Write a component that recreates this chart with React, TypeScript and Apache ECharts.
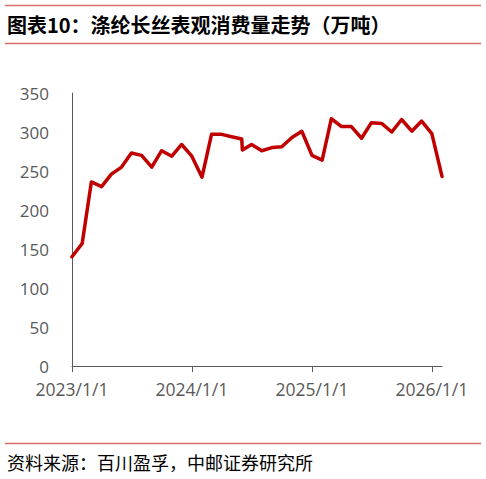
import React, { useEffect, useRef } from "react";
import * as echarts from "echarts";

const dates = [
  "2023-01-01", "2023-02-01", "2023-03-01", "2023-04-01", "2023-05-01", "2023-06-01",
  "2023-07-01", "2023-08-01", "2023-09-01", "2023-10-01", "2023-11-01", "2023-12-01",
  "2024-01-01", "2024-02-01", "2024-03-01", "2024-04-01", "2024-05-01", "2024-06-01",
  "2024-06-03", "2024-07-01", "2024-08-01", "2024-09-01", "2024-10-01", "2024-11-01",
  "2024-12-01", "2025-01-01", "2025-02-01", "2025-03-01", "2025-04-01", "2025-05-01",
  "2025-06-01", "2025-07-01", "2025-08-01", "2025-09-01", "2025-10-01", "2025-11-01",
  "2025-12-01", "2026-01-01", "2026-02-01",
];

const values = [
  140, 157, 236, 230, 246, 255,
  273, 270, 255, 276, 269, 284,
  269, 242, 297, 297, 294, 291,
  277, 284, 276, 280, 281, 293,
  301, 270, 264, 317, 307, 307,
  292, 312, 311, 300, 316, 301,
  314, 298, 243,
];

const yearTicks = ["2023-01-01", "2024-01-01", "2025-01-01", "2026-01-01"];
const yTicks = [0, 50, 100, 150, 200, 250, 300, 350];

const title = "图表10：涤纶长丝表观消费量走势（万吨）";
const source = "资料来源：百川盈孚，中邮证券研究所";

const ts = (d: string) => {
  const [y, m, day] = d.split("-").map(Number);
  return Date.UTC(y, m - 1, day);
};

export default function App() {
  const ref = useRef<HTMLDivElement>(null);
  useEffect(() => {
    if (!ref.current) return;
    const chart = echarts.init(ref.current, null, { renderer: "svg" });
    const xMin = ts(dates[0]);
    const xMax = ts(dates[dates.length - 1]);
    const lineColor = "#DA6D6D";
    chart.setOption({
      animation: false,
      backgroundColor: "#ffffff",
      grid: { left: 72, right: 44, top: 93, bottom: 113 },
      xAxis: {
        type: "value",
        min: xMin,
        max: xMax,
        axisLine: { show: true, lineStyle: { color: "#595959", width: 1 } },
        axisTick: {
          show: true,
          length: 6,
          inside: false,
          customValues: yearTicks.map(ts),
          lineStyle: { color: "#595959" },
        },
        axisLabel: {
          customValues: yearTicks.map(ts),
          formatter: (v: number) => new Date(v).getUTCFullYear() + "/1/1",
          color: "#595959",
          fontSize: 17.5,
          fontFamily: "Open Sans",
          margin: 14,
        },
        splitLine: { show: false },
      },
      yAxis: {
        type: "value",
        min: yTicks[0],
        max: yTicks[yTicks.length - 1],
        interval: 50,
        axisLine: { show: true, lineStyle: { color: "#595959", width: 1 } },
        axisTick: { show: false },
        axisLabel: {
          color: "#595959",
          fontSize: 17,
          fontFamily: "Open Sans",
          margin: 23,
        },
        splitLine: { show: false },
      },
      series: [
        {
          type: "line",
          data: dates.map((d, i) => [ts(d), values[i]]),
          showSymbol: false,
          symbol: "none",
          lineStyle: { color: "#C00000", width: 3.5, join: "round", cap: "round" },
        },
      ],
      graphic: [
        { type: "line", shape: { x1: 5, y1: 5.5, x2: 481, y2: 5.5 }, style: { stroke: lineColor, lineWidth: 1.5 } },
        {
          type: "text",
          left: 7,
          top: 14,
          style: {
            text: title,
            fontSize: 20,
            fontWeight: "bold",
            fontFamily: "Noto Sans CJK SC",
            fill: "#000000",
          },
        },
        { type: "line", shape: { x1: 5, y1: 43.5, x2: 481, y2: 43.5 }, style: { stroke: lineColor, lineWidth: 1.5 } },
        { type: "line", shape: { x1: 5, y1: 443.5, x2: 481, y2: 443.5 }, style: { stroke: lineColor, lineWidth: 1.5 } },
        {
          type: "text",
          left: 7,
          top: 453,
          style: {
            text: source,
            fontSize: 18,
            fontFamily: "Noto Sans CJK SC",
            fill: "#000000",
          },
        },
      ],
    });
    return () => chart.dispose();
  }, []);
  return (
    <div
      ref={ref}
      style={{ position: "fixed", left: 0, top: 0, width: 486, height: 479 }}
    />
  );
}
